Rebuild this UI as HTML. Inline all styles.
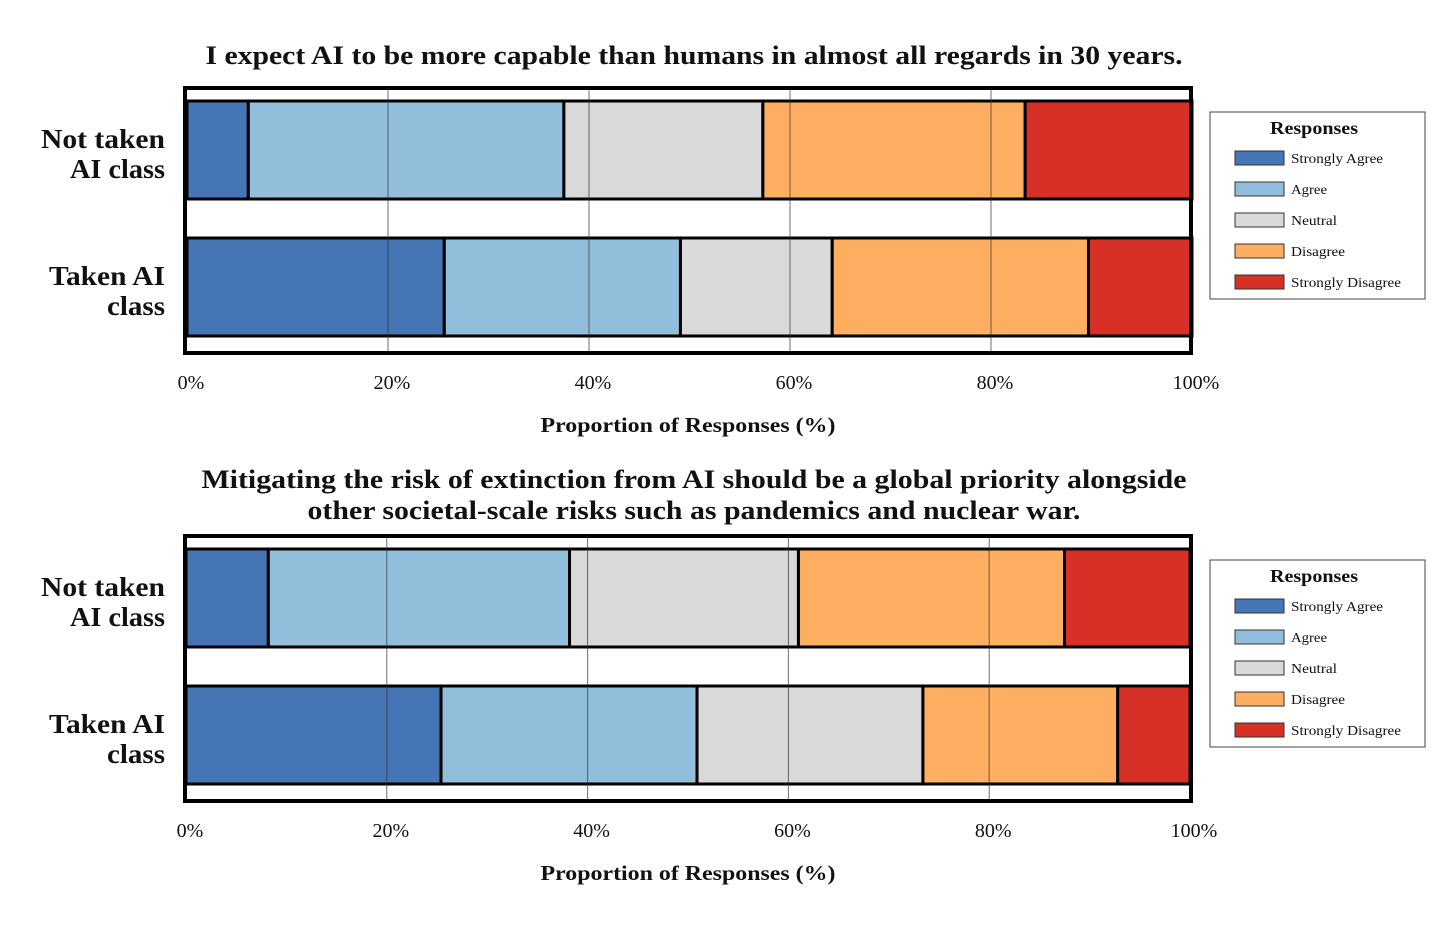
<!DOCTYPE html>
<html><head><meta charset="utf-8"><style>
body{margin:0;background:#fff;}
svg{display:block;font-family:"Liberation Serif",serif;}
</style></head><body>
<svg id="c" width="1456" height="928" viewBox="0 0 1456 928" xmlns="http://www.w3.org/2000/svg"></svg>
<script>
const categories = ["Not taken AI class", "Taken AI class"];
const responses = ["Strongly Agree", "Agree", "Neutral", "Disagree", "Strongly Disagree"];
const colors = ["#4575b4", "#91bfdb", "#d9d9d9", "#fdae61", "#d73027"];
const ticks = [0, 20, 40, 60, 80, 100];
const q1NotTaken = [6.1, 31.4, 19.8, 26.1, 16.6];
const q1Taken = [25.6, 23.5, 15.1, 25.5, 10.3];
const q2NotTaken = [8.2, 30.0, 22.8, 26.5, 12.5];
const q2Taken = [25.4, 25.5, 22.5, 19.4, 7.2];
const titles = [["I expect AI to be more capable than humans in almost all regards in 30 years."],
  ["Mitigating the risk of extinction from AI should be a global priority alongside", "other societal-scale risks such as pandemics and nuclear war."]];
const titleLens = [[977], [985, 773]];
const legendLens = [92, 36, 46, 54, 110];

const svg = document.getElementById('c');
const NS = "http://www.w3.org/2000/svg";
function mk(tag, attrs, parent) {
  const e = document.createElementNS(NS, tag);
  for (const k in attrs) e.setAttribute(k, attrs[k]);
  (parent || svg).appendChild(e);
  return e;
}
function drawPanel(top, x0, x1, data, titleLines, titleY, idx) {
  const g = mk('g', {});
  
  
  const xs = v => x0 + (x1 - x0) * v / 100;
  titleLines.forEach((t, i) => {
    const tt = mk('text', {x: 694, y: titleY + i * 31, 'text-anchor': 'middle', 'font-size': 26, 'font-weight': 'bold', fill: '#111', textLength: titleLens[idx][i], lengthAdjust: 'spacingAndGlyphs'}, g);
    tt.textContent = t;
    
    
  });
  const barY = [top + 13, top + 150];
  data.forEach((row, r) => {
    let acc = 0;
    row.forEach((v, i) => {
      const b = mk('rect', {x: xs(acc), y: barY[r], width: xs(acc + v) - xs(acc), height: 98, fill: colors[i], stroke: '#000', 'stroke-width': 3}, g);
      
      
      acc += v;
    });
    const words = categories[r] === "Not taken AI class" ? [["Not taken", 124], ["AI class", 95]] : [["Taken AI", 116], ["class", 58]];
    words.forEach((w, i) => {
      const l = mk('text', {x: 165, y: barY[r] + 47 + i * 30, 'text-anchor': 'end', 'font-size': 27, 'font-weight': 'bold', fill: '#111', textLength: w[1], lengthAdjust: 'spacingAndGlyphs'}, g);
      l.textContent = w[0];
      
      
    });
  });
  ticks.forEach(t => {
    if (t > 0 && t < 100) mk('line', {x1: xs(t), x2: xs(t), y1: top, y2: top + 265, stroke: '#333', 'stroke-width': 1, opacity: 0.7}, g);
    const tl = mk('text', {x: xs(t) + 4, y: top + 301, 'text-anchor': 'middle', 'font-size': 20, fill: '#111'}, g);
    tl.textContent = t + '%';
    
    
  });
  mk('rect', {x: 185, y: top, width: 1006, height: 265, fill: 'none', stroke: '#000', 'stroke-width': 4}, g);
  const xt = mk('text', {x: 688, y: top + 344, 'text-anchor': 'middle', 'font-size': 21, 'font-weight': 'bold', fill: '#111', textLength: 295, lengthAdjust: 'spacingAndGlyphs'}, g);
  xt.textContent = 'Proportion of Responses (%)';
  
  
  const ly = top + 24;
  const lg = mk('g', {}, g);
  
  
  mk('rect', {x: 1210, y: ly, width: 215, height: 187, fill: '#fff', stroke: '#444', 'stroke-width': 1}, lg);
  const lt = mk('text', {x: 1314, y: ly + 22, 'text-anchor': 'middle', 'font-size': 18, 'font-weight': 'bold', fill: '#111', textLength: 88, lengthAdjust: 'spacingAndGlyphs'}, lg);
  lt.textContent = 'Responses';
  responses.forEach((r, i) => {
    const cy = ly + 46 + i * 31;
    const sw = mk('rect', {x: 1235, y: cy - 7, width: 49, height: 14, fill: colors[i], stroke: '#333', 'stroke-width': 1}, lg);
    
    
    const tx = mk('text', {x: 1291, y: cy + 5, 'font-size': 14, fill: '#111', textLength: legendLens[i], lengthAdjust: 'spacingAndGlyphs'}, lg);
    tx.textContent = r;
    
    
  });
}
drawPanel(88, 187, 1192, [q1NotTaken, q1Taken], titles[0], 64, 0);
drawPanel(536, 186, 1190, [q2NotTaken, q2Taken], titles[1], 488, 1);
</script>
</body></html>
